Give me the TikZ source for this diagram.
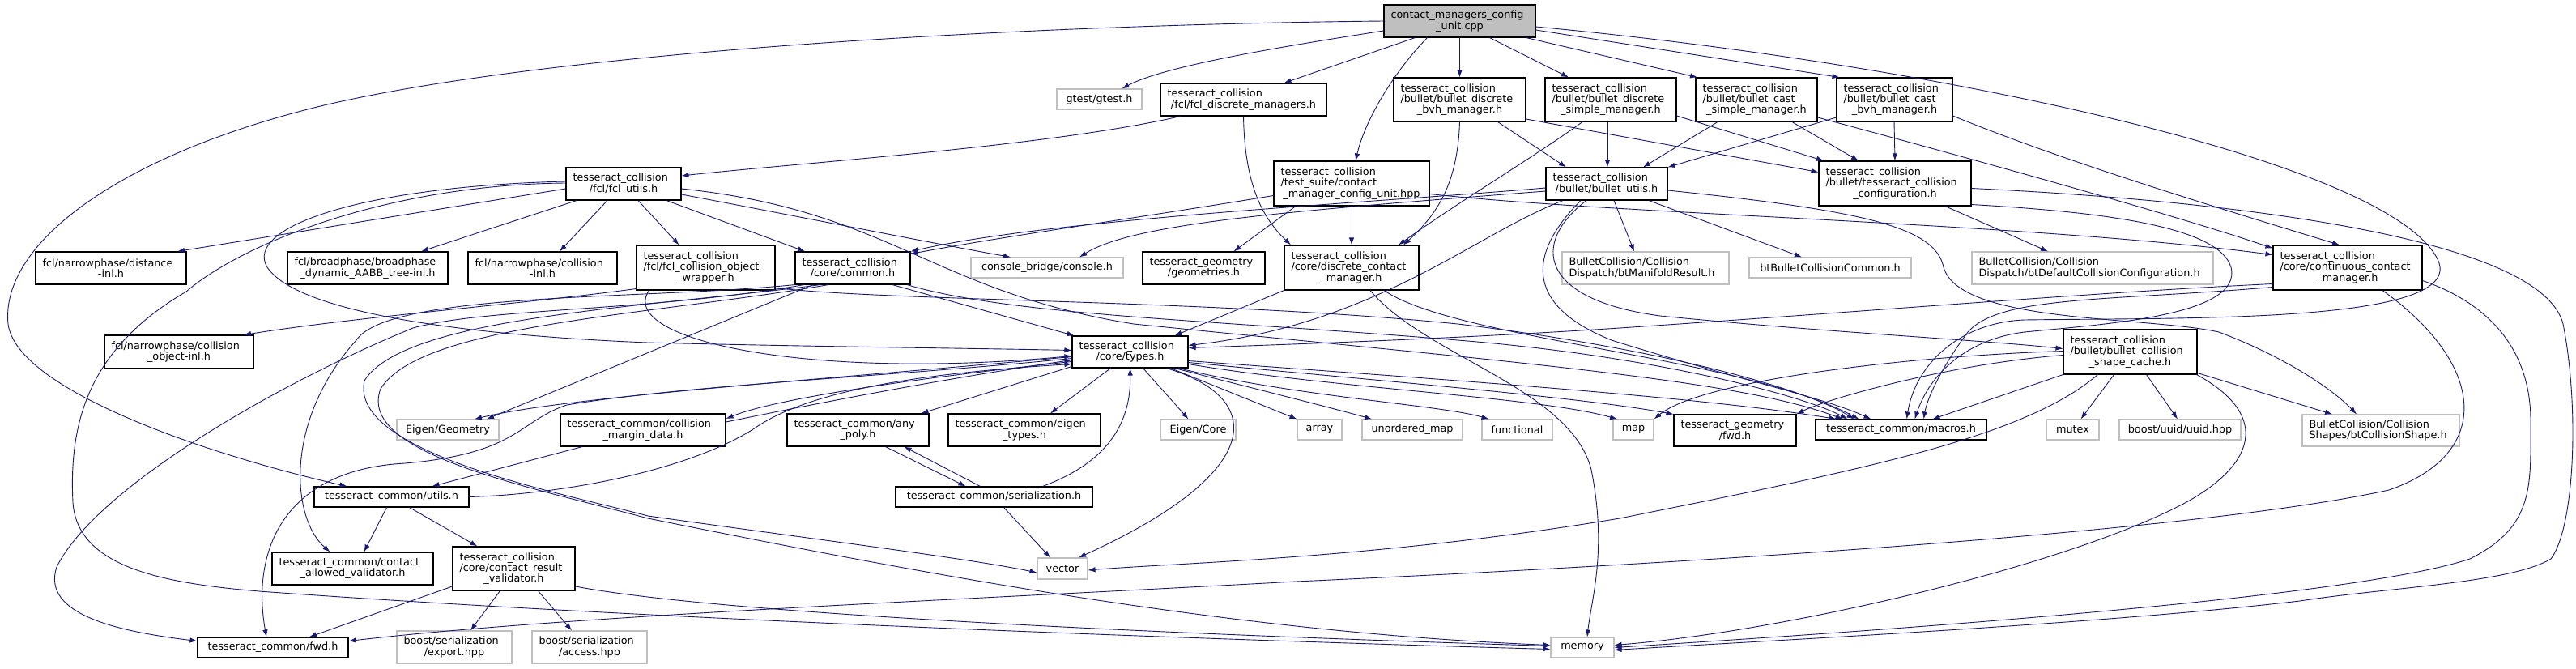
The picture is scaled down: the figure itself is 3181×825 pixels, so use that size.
\documentclass[tikz,border=0pt]{standalone}
\usepackage{fontspec}
\setmainfont{DejaVu Sans}
\usetikzlibrary{arrows.meta}
\definecolor{edgeblue}{RGB}{25,25,112}
\definecolor{grey75}{RGB}{191,191,191}
\tikzstyle{file}=[draw=black,line width=1.1pt,fill=white,inner xsep=8.5pt,inner ysep=1pt,align=left,font=\fontsize{12.8}{13.3}\selectfont]
\tikzstyle{ext}=[file,draw=grey75]
\tikzstyle{src}=[file,fill=grey75]
\tikzstyle{dep}=[draw=edgeblue,line width=0.9pt]
\newcommand{\lastln}[1]{\leavevmode\hfill#1\hfill\null}

\begin{document}
\begin{tikzpicture}[->,>={Latex[length=9pt,width=6.5pt]},x=1pt,y=-1pt,
  every edge/.style={draw=edgeblue,line width=0.9pt}]
\useasboundingbox (0,0) rectangle (3181,825);

\node[src,text width=170pt,minimum height=40pt] (root) at (1802.5,26) {contact\_managers\_config\\\lastln{\_unit.cpp}};

\node[ext,minimum width=105pt,minimum height=25pt] (gtest) at (1357.5,122.5) {gtest/gtest.h};
\node[file,text width=188pt,minimum height=40pt] (fcldm) at (1535.5,123) {tesseract\_collision\\\lastln{/fcl/fcl\_discrete\_managers.h}};
\node[file,text width=146pt,minimum height=54pt] (bvh) at (1802.5,123) {tesseract\_collision\\/bullet/bullet\_discrete\\\lastln{\_bvh\_manager.h}};
\node[file,text width=145pt,minimum height=54pt] (dsimple) at (1989,123) {tesseract\_collision\\/bullet/bullet\_discrete\\\lastln{\_simple\_manager.h}};
\node[file,text width=133pt,minimum height=54pt] (csimple) at (2169,123) {tesseract\_collision\\/bullet/bullet\_cast\\\lastln{\_simple\_manager.h}};
\node[file,text width=126pt,minimum height=54pt] (cbvh) at (2339.5,123) {tesseract\_collision\\/bullet/bullet\_cast\\\lastln{\_bvh\_manager.h}};

\node[file,text width=125pt,minimum height=40pt] (fclutils) at (770,227) {tesseract\_collision\\\lastln{/fcl/fcl\_utils.h}};
\node[file,text width=175pt,minimum height=55pt] (testsuite) at (1669,226.5) {tesseract\_collision\\/test\_suite/contact\\\lastln{\_manager\_config\_unit.hpp}};
\node[file,text width=133pt,minimum height=40pt] (bulletutils) at (1984,227) {tesseract\_collision\\\lastln{/bullet/bullet\_utils.h}};
\node[file,text width=171pt,minimum height=55pt] (tcconfig) at (2340,226.5) {tesseract\_collision\\/bullet/tesseract\_collision\\\lastln{\_configuration.h}};

\node[file,text width=169pt,minimum height=40pt] (distinl) at (137,331) {fcl/narrowphase/distance\\\lastln{-inl.h}};
\node[file,text width=181pt,minimum height=40pt] (broadinl) at (454,331) {fcl/broadphase/broadphase\\\lastln{\_dynamic\_AABB\_tree-inl.h}};
\node[file,text width=167pt,minimum height=40pt] (collinl) at (670,331) {fcl/narrowphase/collision\\\lastln{-inl.h}};
\node[file,text width=154pt,minimum height=55pt] (objwrap) at (871.5,330.5) {tesseract\_collision\\/fcl/fcl\_collision\_object\\\lastln{\_wrapper.h}};
\node[file,text width=125pt,minimum height=40pt] (common) at (1053,331) {tesseract\_collision\\\lastln{/core/common.h}};
\node[ext,minimum width=188pt,minimum height=25pt] (console) at (1293,330.5) {console\_bridge/console.h};
\node[file,text width=134pt,minimum height=40pt] (geometries) at (1486.5,331) {tesseract\_geometry\\\lastln{/geometries.h}};
\node[file,text width=149pt,minimum height=55pt] (dcm) at (1669,330.5) {tesseract\_collision\\/core/discrete\_contact\\\lastln{\_manager.h}};
\node[ext,text width=189pt,minimum height=40pt] (manifold) at (2032,331) {BulletCollision/Collision\\Dispatch/btManifoldResult.h};
\node[ext,minimum width=200pt,minimum height=25pt] (btcommon) at (2260,330.5) {btBulletCollisionCommon.h};
\node[ext,text width=281pt,minimum height=40pt] (defaultcfg) at (2584,331) {BulletCollision/Collision\\Dispatch/btDefaultCollisionConfiguration.h};
\node[file,text width=167pt,minimum height=55pt] (ccm) at (2899,330.5) {tesseract\_collision\\/core/continuous\_contact\\\lastln{\_manager.h}};

\node[file,text width=167pt,minimum height=41pt] (objinl) at (221,434.5) {fcl/narrowphase/collision\\\lastln{\_object-inl.h}};
\node[file,text width=126pt,minimum height=39pt] (types) at (1395.5,434.5) {tesseract\_collision\\\lastln{/core/types.h}};
\node[file,text width=148pt,minimum height=55pt] (shapecache) at (2630.5,434.5) {tesseract\_collision\\/bullet/bullet\_collision\\\lastln{\_shape\_cache.h}};

\node[ext,minimum width=126pt,minimum height=25pt] (eigengeo) at (553,530.5) {Eigen/Geometry};
\node[file,text width=187pt,minimum height=40pt] (margin) at (794,531) {tesseract\_common/collision\\\lastln{\_margin\_data.h}};
\node[file,text width=158pt,minimum height=40pt] (anypoly) at (1059.5,531) {tesseract\_common/any\\\lastln{\_poly.h}};
\node[file,text width=171pt,minimum height=40pt] (eigentypes) at (1265,531) {tesseract\_common/eigen\\\lastln{\_types.h}};
\node[ext,minimum width=93pt,minimum height=25pt] (eigencore) at (1479.5,530.5) {Eigen/Core};
\node[ext,minimum width=55pt,minimum height=25pt] (array) at (1629.5,530.5) {array};
\node[ext,minimum width=124pt,minimum height=25pt] (unordered) at (1744,530.5) {unordered\_map};
\node[ext,minimum width=87pt,minimum height=25pt] (functional) at (1873.5,530.5) {functional};
\node[ext,minimum width=50pt,minimum height=25pt] (map) at (2017,530.5) {map};
\node[file,text width=134pt,minimum height=39pt] (geofwd) at (2142.5,531.5) {tesseract\_geometry\\\lastln{/fwd.h}};
\node[file,minimum width=211pt,minimum height=25pt] (macros) at (2347.5,530.5) {tesseract\_common/macros.h};
\node[ext,minimum width=65pt,minimum height=25pt] (mutex) at (2559.5,530.5) {mutex};
\node[ext,minimum width=150pt,minimum height=25pt] (uuid) at (2692,530.5) {boost/uuid/uuid.hpp};
\node[ext,text width=177pt,minimum height=39pt] (btshape) at (2940,531.5) {BulletCollision/Collision\\Shapes/btCollisionShape.h};

\node[file,minimum width=191pt,minimum height=25pt] (utils) at (483.5,613.5) {tesseract\_common/utils.h};
\node[file,minimum width=243pt,minimum height=25pt] (serial) at (1227.5,613.5) {tesseract\_common/serialization.h};

\node[file,text width=182pt,minimum height=40pt] (allowed) at (435.5,702) {tesseract\_common/contact\\\lastln{\_allowed\_validator.h}};
\node[file,text width=134pt,minimum height=54pt] (resultval) at (634.5,702) {tesseract\_collision\\/core/contact\_result\\\lastln{\_validator.h}};
\node[ext,minimum width=62pt,minimum height=26pt] (vector) at (1312,702) {vector};

\node[file,minimum width=186pt,minimum height=25pt] (fwd) at (337,799.5) {tesseract\_common/fwd.h};
\node[ext,text width=125pt,minimum height=40pt] (export) at (561,799) {boost/serialization\\\lastln{/export.hpp}};
\node[ext,text width=125pt,minimum height=40pt] (access) at (728,799) {boost/serialization\\\lastln{/access.hpp}};
\node[ext,minimum width=78pt,minimum height=25pt] (memory) at (1954,799.5) {memory};

\path
  ([xshift=-55pt]root.south) edge ([xshift=50pt]fcldm.north)
  (root.south) edge (bvh.north)
  ([xshift=37pt]root.south) edge ([xshift=-52pt]dsimple.north)
  ([xshift=82pt]root.south) edge ([xshift=-73pt]csimple.north)
  ([yshift=-11pt]root.east) edge ([xshift=-68pt]cbvh.north)
  (testsuite.south) edge (dcm.north)
  ([xshift=-69pt]testsuite.south) edge ([xshift=37pt]geometries.north)
  ([xshift=47pt]bvh.south) edge ([xshift=-50pt]bulletutils.north)
  ([yshift=-24pt]bvh.east) edge ([yshift=14pt]tcconfig.west)
  ([xshift=-4pt]dsimple.south) edge ([xshift=1pt]bulletutils.north)
  ([yshift=-20pt]dsimple.east) edge ([xshift=-88pt]tcconfig.north)
  ([xshift=-48pt]csimple.south) edge ([xshift=45pt]bulletutils.north)
  ([xshift=44pt]csimple.south) edge ([xshift=-45pt]tcconfig.north)
  ([yshift=-22pt]cbvh.west) edge (bulletutils.north east)
  ([xshift=-0.5pt]cbvh.south) edge (tcconfig.north)
  ([yshift=-6pt]fclutils.west) edge ([xshift=82pt]distinl.north)
  ([xshift=-58pt]fclutils.south) edge ([xshift=66pt]broadinl.north)
  ([xshift=-20pt]fclutils.south) edge ([xshift=21pt]collinl.north)
  ([xshift=18pt]fclutils.south) edge ([xshift=-33pt]objwrap.north)
  ([xshift=53pt]fclutils.south) edge ([xshift=-59pt]common.north)
  ([xshift=49pt]common.south) edge ([xshift=-69pt]types.north)
  ([xshift=-49pt]common.south) edge ([xshift=48pt]eigengeo.north)
  (dcm.south west) edge ([xshift=55pt]types.north)
  ([yshift=-18pt]types.west) edge ([xshift=78pt]anypoly.north)
  ([xshift=-24pt]types.south) edge ([xshift=32pt]eigentypes.north)
  ([xshift=16pt]types.south) edge ([xshift=-12pt]eigencore.north)
  ([xshift=50pt]types.south) edge (array.north west)
  ([xshift=34pt]anypoly.south) edge ([xshift=-35pt]serial.north)
  ([xshift=-17pt]serial.north) edge ([xshift=57pt]anypoly.south)
  ([xshift=12pt]serial.south) edge ([xshift=-15pt]vector.north)
  ([xshift=-75pt]margin.south) edge ([xshift=50pt]utils.north)
  ([xshift=-6pt]utils.south) edge ([xshift=14pt]allowed.north)
  ([xshift=22pt]utils.south) edge ([xshift=-45pt]resultval.north)
  ([yshift=-22pt]resultval.west) edge ([xshift=45pt]fwd.north)
  ([xshift=-17pt]resultval.south) edge ([xshift=20pt]export.north)
  ([xshift=30pt]resultval.south) edge ([xshift=-22pt]access.north)
  ([xshift=9pt]bulletutils.south) edge ([xshift=-14pt]manifold.north)
  ([xshift=52pt]bulletutils.south) edge ([xshift=-35pt]btcommon.north)
  ([xshift=62pt]tcconfig.south) edge ([xshift=-55pt]defaultcfg.north)
  (shapecache.south west) edge ([xshift=39pt]macros.north)
  ([xshift=-20pt]shapecache.south) edge ([xshift=10pt]mutex.north)
  ([xshift=20pt]shapecache.south) edge ([xshift=-3pt]uuid.north)
  ([yshift=-26pt]shapecache.east) edge ([xshift=-60pt]btshape.north);

\draw[dep] ([yshift=-12pt]root.west) .. controls (1600,55) and (1440,80) .. ([xshift=28pt]gtest.north);
\draw[dep] ([xshift=-40pt]root.south) .. controls (1720,90) and (1685,150) .. ([xshift=5pt]testsuite.north);
\draw[dep] (root.west) .. controls (1300,30) and (700,60) .. (400,130) .. controls (150,190) and (0,300) .. (10,400) .. controls (20,480) and (250,560) .. ([xshift=-55pt]utils.north);
\draw[dep] ([yshift=-7pt]root.east) .. controls (2400,80) and (2950,200) .. (3010,320) .. controls (3050,400) and (2700,392) .. (2500,395) .. controls (2420,398) and (2365,450) .. ([xshift=7pt]macros.north);

\draw[dep] ([xshift=-78pt]fcldm.south) .. controls (1300,180) and (1000,200) .. ([yshift=10pt]fclutils.east);
\draw[dep] (fcldm.south) .. controls (1537,230) and (1560,270) .. ([xshift=-75pt]dcm.north);

\draw[dep] ([yshift=-15pt]testsuite.west) .. controls (1400,270) and (1250,290) .. ([yshift=-3pt]common.north east);
\draw[dep] ([yshift=-13pt]testsuite.east) .. controls (2000,265) and (2500,275) .. ([yshift=16pt]ccm.west);

\draw[dep] (bvh.south) .. controls (1800,220) and (1780,260) .. ([xshift=64pt]dcm.north);
\draw[dep] ([xshift=-35pt]dsimple.south) .. controls (1900,190) and (1800,250) .. ([xshift=58pt]dcm.north);
\draw[dep] ([yshift=-22pt]csimple.east) .. controls (2450,200) and (2700,270) .. ([yshift=24pt]ccm.west);
\draw[dep] ([yshift=-20pt]cbvh.east) .. controls (2550,200) and (2750,260) .. ([xshift=-10pt]ccm.north);

\draw[dep] ([yshift=-13pt]fclutils.east) .. controls (1000,270) and (1150,300) .. ([xshift=-45pt]console.north);
\draw[dep] ([yshift=-6pt]fclutils.east) .. controls (1100,260) and (1150,360) .. (1400,400) .. controls (1900,450) and (2150,470) .. ([xshift=-72pt]macros.north);
\draw[dep] ([yshift=3pt]fclutils.west) .. controls (450,230) and (300,280) .. (330,330) .. controls (370,390) and (600,415) .. (800,423) .. controls (1000,428) and (1200,430) .. ([yshift=2pt]types.west);
\draw[dep] ([yshift=1pt]fclutils.west) .. controls (480,228) and (300,300) .. (230,360) .. controls (110,430) and (85,520) .. (90,620) .. controls (95,700) and (200,720) .. (320,730) .. controls (800,765) and (1500,790) .. ([yshift=-2pt]memory.west);

\draw[dep] ([yshift=-26pt]objwrap.west) .. controls (650,375) and (450,390) .. ([xshift=80pt]objinl.north);
\draw[dep] ([yshift=-25pt]objwrap.east) .. controls (1100,372) and (1500,370) .. (1800,400) .. controls (2050,430) and (2230,480) .. ([xshift=-58pt]macros.north);
\draw[dep] ([xshift=-70pt]objwrap.south) .. controls (760,420) and (1000,470) .. ([yshift=-5pt]types.west);

\draw[dep] ([xshift=67pt]common.south) .. controls (1250,390) and (1500,395) .. (1800,420) .. controls (2050,440) and (2230,490) .. ([xshift=-66pt]macros.north);
\draw[dep] (common.south west) .. controls (800,370) and (480,360) .. (440,420) .. controls (350,520) and (360,640) .. ([xshift=-28pt]allowed.north);
\draw[dep] ([xshift=-60pt]common.south) .. controls (800,385) and (600,380) .. (510,405) .. controls (350,470) and (120,600) .. (70,700) .. controls (50,760) and (150,780) .. ([yshift=8pt]fwd.west);
\draw[dep] ([xshift=-40pt]common.south) .. controls (800,380) and (500,390) .. (450,470) .. controls (430,560) and (700,610) .. (800,637) .. controls (1000,665) and (1200,690) .. ([yshift=-5pt]vector.west);
\draw[dep] ([xshift=-30pt]common.south) .. controls (800,390) and (520,400) .. (470,480) .. controls (440,560) and (650,600) .. (800,640) .. controls (1100,700) and (1500,780) .. ([yshift=3pt]memory.west);

\draw[dep] ([xshift=23pt]dcm.south) .. controls (1760,440) and (1940,480) .. (1965,580) .. controls (1985,680) and (1965,740) .. ([xshift=6pt]memory.north);
\draw[dep] ([xshift=40pt]dcm.south) .. controls (1800,420) and (2150,440) .. ([xshift=-52pt]macros.north);

\draw[dep] ([xshift=55pt]types.south) .. controls (1550,480) and (1650,505) .. ([xshift=-50pt]unordered.north);
\draw[dep] ([xshift=60pt]types.south) .. controls (1600,490) and (1780,500) .. ([xshift=-35pt]functional.north);
\draw[dep] ([yshift=-15pt]types.east) .. controls (1650,480) and (1900,490) .. ([xshift=-20pt]map.north);
\draw[dep] ([yshift=-13pt]types.east) .. controls (1700,470) and (1950,490) .. (geofwd.north west);
\draw[dep] ([yshift=-11pt]types.east) .. controls (1800,470) and (2100,490) .. ([xshift=-80pt]macros.north);
\draw[dep] ([xshift=45pt]types.south) .. controls (1560,490) and (1570,580) .. ([xshift=20pt]vector.north);
\draw[dep] ([yshift=-12pt]types.west) .. controls (1100,470) and (950,495) .. ([yshift=14pt]margin.east);
\draw[dep] ([yshift=10pt]margin.east) .. controls (1000,500) and (1150,470) .. ([yshift=-10pt]types.west);
\draw[dep] ([yshift=-6pt]types.west) .. controls (1000,470) and (700,490) .. ([xshift=33pt]eigengeo.north);
\draw[dep] ([yshift=-8pt]types.west) .. controls (1100,465) and (850,475) .. (700,500) .. controls (640,520) and (640,560) .. (500,572) .. controls (350,580) and (310,680) .. ([xshift=-8pt]fwd.north);

\draw[dep] ([xshift=60pt]serial.north) .. controls (1370,570) and (1397,520) .. (types.south);
\draw[dep] (utils.east) .. controls (700,610) and (850,580) .. (930,530) .. controls (1000,480) and (1150,460) .. ([yshift=-15pt]types.west);
\draw[dep] ([yshift=-22pt]resultval.east) .. controls (900,760) and (1500,785) .. ([yshift=2pt]memory.west);

\draw[dep] ([yshift=-5pt]bulletutils.west) .. controls (1700,250) and (1300,270) .. (common.north east);
\draw[dep] ([yshift=-9pt]bulletutils.west) .. controls (1600,260) and (1400,275) .. ([xshift=40pt]console.north);
\draw[dep] ([xshift=-54pt]bulletutils.south) .. controls (1820,290) and (1700,400) .. ([yshift=8pt]types.east);
\draw[dep] ([xshift=-25pt]bulletutils.south) .. controls (1890,300) and (1900,370) .. (2050,390) .. controls (2250,410) and (2450,420) .. ([yshift=4pt]shapecache.west);
\draw[dep] ([xshift=-32pt]bulletutils.south) .. controls (1880,320) and (1890,380) .. (1990,420) .. controls (2150,470) and (2250,490) .. ([xshift=-37pt]macros.north);
\draw[dep] ([yshift=-8pt]bulletutils.east) .. controls (2300,260) and (2390,280) .. (2400,330) .. controls (2420,400) and (2650,390) .. (2740,410) .. controls (2820,440) and (2880,480) .. ([xshift=-30pt]btshape.north);

\draw[dep] ([yshift=-26pt]tcconfig.east) .. controls (2600,262) and (2740,280) .. (2755,330) .. controls (2770,390) and (2600,400) .. (2500,410) .. controls (2420,420) and (2380,470) .. ([xshift=17pt]macros.north);
\draw[dep] ([yshift=-6pt]tcconfig.east) .. controls (2800,250) and (3140,300) .. (3165,400) .. controls (3185,500) and (3180,650) .. (3150,690) .. controls (3100,720) and (2950,725) .. (2840,742) .. controls (2600,770) and (2200,790) .. ([yshift=-3pt]memory.east);

\draw[dep] ([yshift=-4pt]shapecache.west) .. controls (2400,450) and (2250,495) .. (geofwd.north east);
\draw[dep] ([yshift=1pt]shapecache.west) .. controls (2350,440) and (2100,470) .. (map.north east);
\draw[dep] ([xshift=82pt]shapecache.south) .. controls (2800,510) and (2790,570) .. (2700,620) .. controls (2550,700) and (2200,780) .. ([yshift=3pt]memory.east);
\draw[dep] ([xshift=-40pt]shapecache.south) .. controls (2500,540) and (2300,580) .. (2000,640) .. controls (1700,690) and (1450,695) .. ([yshift=-2pt]vector.east);

\draw[dep] ([yshift=-20pt]ccm.west) .. controls (2600,360) and (2300,385) .. (2000,405) .. controls (1800,418) and (1600,425) .. ([yshift=5pt]types.east);
\draw[dep] ([yshift=-24pt]ccm.west) .. controls (2600,372) and (2470,365) .. (2430,410) .. controls (2400,450) and (2380,490) .. ([xshift=28pt]macros.north);
\draw[dep] ([xshift=43pt]ccm.south) .. controls (3070,450) and (3080,560) .. (2950,605) .. controls (2700,660) and (2000,700) .. (1600,718) .. controls (1200,740) and (700,760) .. ([yshift=8pt]fwd.east);
\draw[dep] ([yshift=-16pt]ccm.east) .. controls (3060,370) and (3125,420) .. (3125,520) .. controls (3125,600) and (3130,650) .. (3050,690) .. controls (2900,740) and (2300,780) .. (memory.east);
\end{tikzpicture}
\end{document}
